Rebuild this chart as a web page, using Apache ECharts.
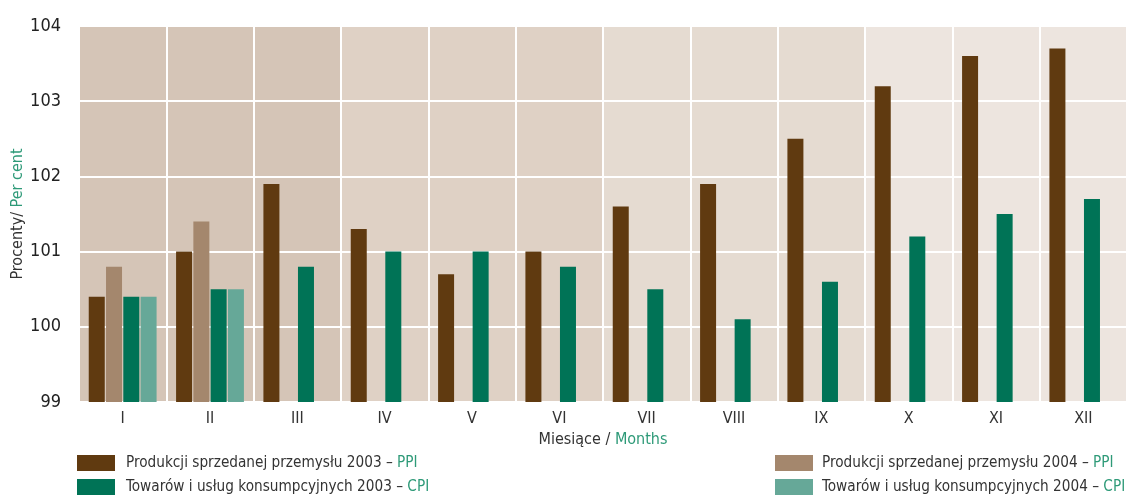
<!DOCTYPE html>
<html><head><meta charset="utf-8">
<script src="https://cdn.jsdelivr.net/npm/echarts@6/dist/echarts.min.js"></script>
<style>html,body{margin:0;padding:0;background:#fff}#c{width:1128px;height:495px}</style>
</head><body><div id="c"></div>
<script>
var months = ['I','II','III','IV','V','VI','VII','VIII','IX','X','XI','XII'];
var ppi2003 = [100.4,101.0,101.9,101.3,100.7,101.0,101.6,101.9,102.5,103.2,103.6,103.7];
var ppi2004 = [100.8,101.4,null,null,null,null,null,null,null,null,null,null];
var cpi2003 = [100.4,100.5,100.8,101.0,101.0,100.8,100.5,100.1,100.6,101.2,101.5,101.7];
var cpi2004 = [100.4,100.5,null,null,null,null,null,null,null,null,null,null];
var quarters = ['Q1','Q2','Q3','Q4'];
var quarterFill = [104,104,104,104];
var yTicks = {min:99, max:104, interval:1};

var FONT = '"Liberation Sans Narrow","DejaVu Sans Condensed","Open Sans",sans-serif';
var TXT = '#333333', GRN = '#2e9a78';
var names = {
  p3:'Produkcji sprzedanej przemysłu 2003 – {g|PPI}',
  c3:'Towarów i usług konsumpcyjnych 2003 – {g|CPI}',
  p4:'Produkcji sprzedanej przemysłu 2004 – {g|PPI}',
  c4:'Towarów i usług konsumpcyjnych 2004 – {g|CPI}'
};
var rich = {g:{color:GRN, fontFamily:FONT, fontSize:16}};
var richL = {g:{color:GRN, fontFamily:FONT, fontSize:15.2}};
function fmt(n){return names[n];}
var chart = echarts.init(document.getElementById('c'));
chart.setOption({
  animation:false,
  textStyle:{fontFamily:FONT},
  grid:{left:79, right:1, top:26, bottom:93, containLabel:false, outerBoundsMode:'none'},
  legend:[
    {left:77, top:455, padding:0, height:45, orient:'vertical', itemWidth:38, itemHeight:16, itemGap:8, icon:'rect',
     selectedMode:false, formatter:fmt, data:['p3','c3'],
     textStyle:{color:TXT, fontFamily:FONT, fontSize:15.2, rich:richL, padding:[0,0,0,6]}},
    {left:775, top:455, padding:0, height:45, orient:'vertical', itemWidth:38, itemHeight:16, itemGap:8, icon:'rect',
     selectedMode:false, formatter:fmt, data:['p4','c4'],
     textStyle:{color:TXT, fontFamily:FONT, fontSize:15.2, rich:richL, padding:[0,0,0,4]}}
  ],
  xAxis:[{
    type:'category', data:months,
    axisLine:{show:false}, axisTick:{show:false},
    axisLabel:{color:TXT, fontSize:16, fontFamily:FONT, margin:9},
    splitLine:{show:true, lineStyle:{color:'#ffffff', width:2}},
    name:'Miesiące / {g|Months}', nameLocation:'middle', nameGap:30,
    nameTextStyle:{color:TXT, fontSize:16, fontFamily:FONT, rich:rich}
  },{
    type:'category', data:quarters, show:false
  }],
  yAxis:{
    type:'value', min:yTicks.min, max:yTicks.max, interval:yTicks.interval,
    axisLine:{show:false}, axisTick:{show:false},
    axisLabel:{color:'#222222', fontSize:18, fontFamily:FONT, margin:18},
    splitLine:{show:true, lineStyle:{color:'#ffffff', width:2}},
    name:'Procenty/ {g|Per cent}', nameLocation:'middle', nameRotate:90, nameGap:53,
    nameMoveOverlap:false,
    nameTextStyle:{color:TXT, fontSize:16, fontFamily:FONT, rich:rich}
  },
  series:[
    {type:'bar', xAxisIndex:1, z:-1, barWidth:'100%', barGap:'0%', silent:true,
     data:quarterFill.map(function(v,i){return {value:v, itemStyle:{color:['#d5c5b7','#dfd1c5','#e5dbd1','#ede5df'][i]}};})},
    {name:'p3', type:'bar', data:ppi2003, barWidth:16, barGap:'8%', itemStyle:{color:'#603a10'}},
    {name:'p4', type:'bar', data:ppi2004, barWidth:16, barGap:'8%', itemStyle:{color:'#a4876d'}},
    {name:'c3', type:'bar', data:cpi2003, barWidth:16, barGap:'8%', itemStyle:{color:'#007356'}},
    {name:'c4', type:'bar', data:cpi2004, barWidth:16, barGap:'8%', itemStyle:{color:'#66a898'}}
  ]
});
</script></body></html>
